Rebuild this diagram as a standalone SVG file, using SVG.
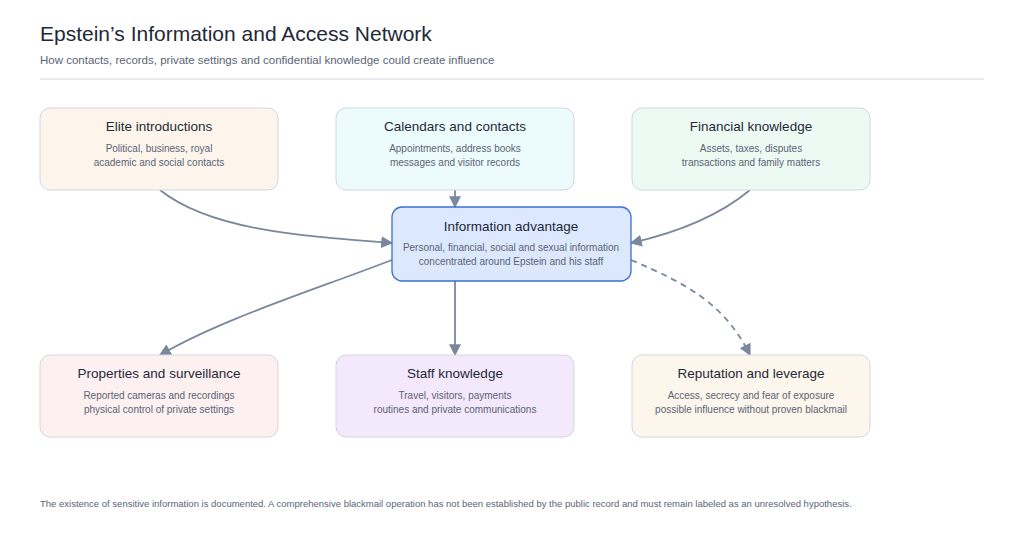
<svg xmlns="http://www.w3.org/2000/svg" width="1024" height="535" viewBox="0 0 1024 535">
<style>
text{font-family:"Liberation Sans",Arial,sans-serif}
.t{font-size:13.5px;fill:#1f2937;text-anchor:middle}
.s{font-size:10px;fill:#5b6475;text-anchor:middle}
.n{stroke:#d3d6dc;stroke-width:1}
.c{fill:none;stroke:#7a879c;stroke-width:1.8}
</style>
<defs><marker id="a" viewBox="0 0 10 10" refX="9" refY="5" markerWidth="7" markerHeight="7" markerUnits="userSpaceOnUse" orient="auto"><path d="M0,0L10,5L0,10z" fill="#7a879c"/></marker>
<marker id="b" viewBox="0 0 10 10" refX="9" refY="5" markerWidth="12" markerHeight="12" markerUnits="userSpaceOnUse" orient="auto"><path d="M0,0L10,5L0,10z" fill="#7a879c"/></marker></defs>
<rect width="1024" height="535" fill="#fff"/>
<text x="40" y="41" font-size="21" fill="#1f2937">Epstein’s Information and Access Network</text>
<text x="40" y="64" font-size="11.5" fill="#5b6475">How contacts, records, private settings and confidential knowledge could create influence</text>
<line x1="40" y1="79" x2="984" y2="79" stroke="#d3d6dc"/>
<g id="connectors">
<path class="c" marker-end="url(#b)" d="M160,190 C210,230 300,236 392,243"/>
<path class="c" marker-end="url(#b)" d="M455,190 L455,207"/>
<path class="c" marker-end="url(#b)" d="M750,190 C720,215 680,232 631,243"/>
<path class="c" marker-end="url(#b)" d="M392,260 C300,295 220,320 160,355"/>
<path class="c" marker-end="url(#b)" d="M455,281 L455,355"/>
<path class="c" stroke-dasharray="6,5" marker-end="url(#b)" d="M631,260 C690,285 725,305 750,355"/>
</g>
<g id="elite"><rect class="n" x="40" y="108" width="238" height="82" rx="10" fill="#fdf5ec"/><text class="t" x="159" y="131">Elite introductions</text><text class="s" x="159" y="152">Political, business, royal</text><text class="s" x="159" y="166">academic and social contacts</text></g>
<g id="calendars"><rect class="n" x="336" y="108" width="238" height="82" rx="10" fill="#ecfcfd"/><text class="t" x="455" y="131">Calendars and contacts</text><text class="s" x="455" y="152">Appointments, address books</text><text class="s" x="455" y="166">messages and visitor records</text></g>
<g id="financial"><rect class="n" x="632" y="108" width="238" height="82" rx="10" fill="#edfaf3"/><text class="t" x="751" y="131">Financial knowledge</text><text class="s" x="751" y="152">Assets, taxes, disputes</text><text class="s" x="751" y="166">transactions and family matters</text></g>
<g id="info"><rect x="392" y="207" width="239" height="74" rx="10" fill="#dbe8fd" stroke="#3d6fd0" stroke-width="1.3"/><text class="t" x="511" y="231">Information advantage</text><text class="s" x="511" y="251">Personal, financial, social and sexual information</text><text class="s" x="511" y="265">concentrated around Epstein and his staff</text></g>
<g id="properties"><rect class="n" x="40" y="355" width="238" height="82" rx="10" fill="#fdf0f1"/><text class="t" x="159" y="378">Properties and surveillance</text><text class="s" x="159" y="399">Reported cameras and recordings</text><text class="s" x="159" y="413">physical control of private settings</text></g>
<g id="staff"><rect class="n" x="336" y="355" width="238" height="82" rx="10" fill="#f3e8fc"/><text class="t" x="455" y="378">Staff knowledge</text><text class="s" x="455" y="399">Travel, visitors, payments</text><text class="s" x="455" y="413">routines and private communications</text></g>
<g id="reputation"><rect class="n" x="632" y="355" width="238" height="82" rx="10" fill="#fdf6ec"/><text class="t" x="751" y="378">Reputation and leverage</text><text class="s" x="751" y="399">Access, secrecy and fear of exposure</text><text class="s" x="751" y="413">possible influence without proven blackmail</text></g>
<text x="40" y="507" font-size="9.5" fill="#5b6475">The existence of sensitive information is documented. A comprehensive blackmail operation has not been established by the public record and must remain labeled as an unresolved hypothesis.</text>
</svg>
